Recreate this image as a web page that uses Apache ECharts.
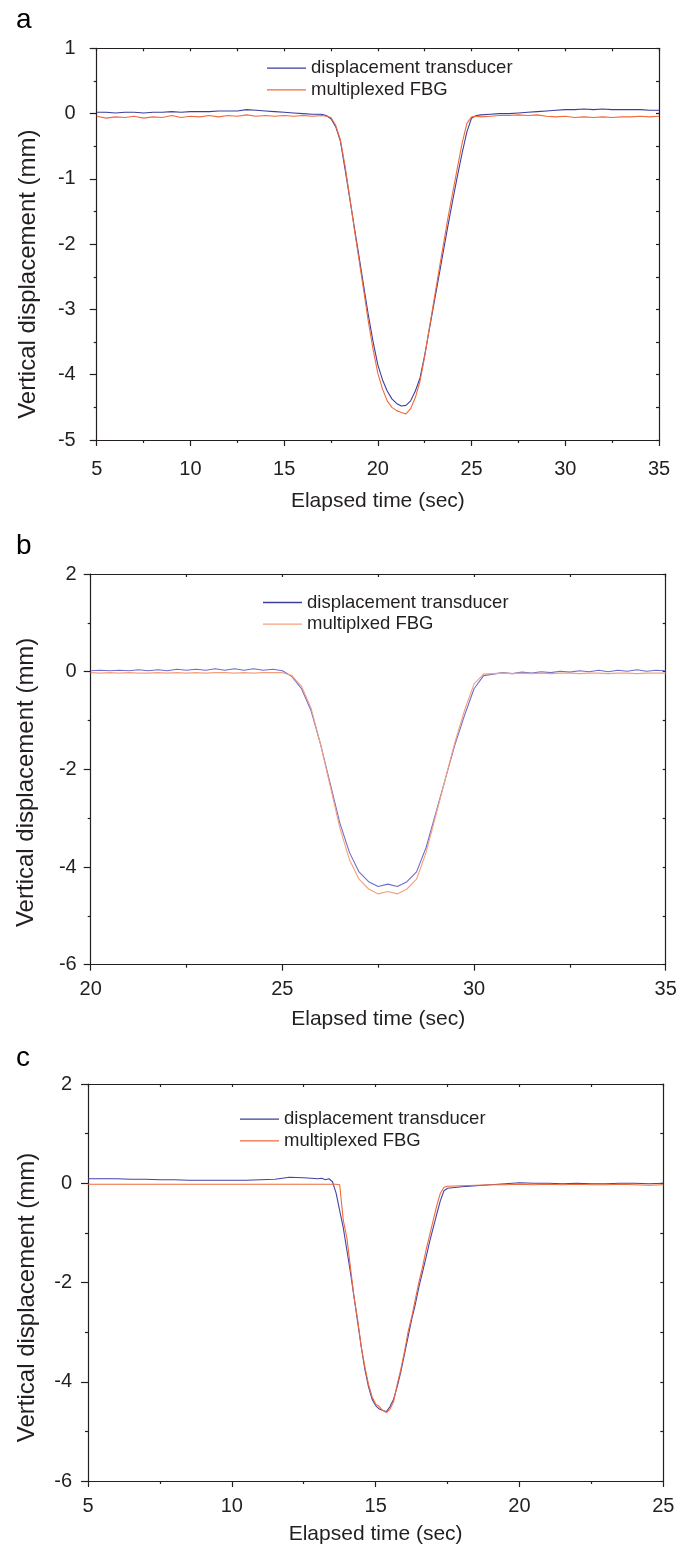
<!DOCTYPE html>
<html>
<head>
<meta charset="utf-8">
<script src="https://cdn.jsdelivr.net/npm/echarts@6/dist/echarts.min.js"></script>
<style>
html,body{margin:0;padding:0;background:#fff;}
#c{width:693px;height:1547px;}
</style>
</head>
<body>
<div id="c"></div>
<script>
// ---------- Panel a ----------
const aTime = [5,5.5,6,6.5,7,7.5,8,8.5,9,9.5,10,10.5,11,11.5,12,12.5,13,13.5,14,14.5,15,15.5,16,16.5,17,
  17.25,17.5,17.75,18,18.25,18.5,18.75,19,19.25,19.5,19.75,20,20.25,20.5,20.75,21,21.25,21.5,21.75,22,22.25,22.5,22.75,23,23.25,23.5,23.75,24,24.25,24.5,24.75,25,25.25,25.5,
  26,26.5,27,27.5,28,28.5,29,29.5,30,30.5,31,31.5,32,32.5,33,33.5,34,34.5,35];
const aDT = [0.02,0.02,0.01,0.02,0.02,0.01,0.02,0.02,0.03,0.02,0.03,0.03,0.03,0.04,0.04,0.04,0.06,0.05,0.04,0.03,0.02,0.01,0.0,-0.01,-0.01,
  -0.03,-0.08,-0.2,-0.42,-0.85,-1.3,-1.75,-2.2,-2.65,-3.1,-3.5,-3.85,-4.08,-4.25,-4.37,-4.44,-4.48,-4.47,-4.4,-4.25,-4.05,-3.7,-3.3,-2.9,-2.5,-2.1,-1.7,-1.32,-0.95,-0.6,-0.28,-0.07,-0.03,-0.02,
  -0.01,0.0,0.0,0.01,0.02,0.03,0.04,0.05,0.06,0.06,0.07,0.06,0.07,0.06,0.06,0.06,0.06,0.05,0.05];
const aFBG = [-0.04,-0.07,-0.05,-0.06,-0.04,-0.07,-0.05,-0.06,-0.03,-0.06,-0.04,-0.05,-0.03,-0.05,-0.03,-0.04,-0.02,-0.04,-0.03,-0.04,-0.03,-0.04,-0.03,-0.04,-0.03,
  -0.04,-0.06,-0.18,-0.4,-0.8,-1.28,-1.78,-2.25,-2.72,-3.2,-3.62,-3.98,-4.22,-4.4,-4.5,-4.55,-4.58,-4.6,-4.52,-4.35,-4.1,-3.72,-3.28,-2.85,-2.42,-2.0,-1.58,-1.2,-0.82,-0.45,-0.15,-0.05,-0.04,-0.05,
  -0.04,-0.03,-0.03,-0.02,-0.03,-0.02,-0.04,-0.05,-0.04,-0.06,-0.05,-0.06,-0.05,-0.06,-0.05,-0.05,-0.04,-0.05,-0.04];

// ---------- Panel b ----------
const bTime = [20,20.25,20.5,20.75,21,21.25,21.5,21.75,22,22.25,22.5,22.75,23,23.25,23.5,23.75,24,24.25,24.5,24.75,25,
  25.25,25.5,25.75,26,26.25,26.5,26.75,27,27.25,27.5,27.75,28,28.25,28.5,28.75,29,29.25,29.5,29.75,30,30.25,30.5,
  30.75,31,31.25,31.5,31.75,32,32.25,32.5,32.75,33,33.25,33.5,33.75,34,34.25,34.5,34.75,35];
const bDT = [0.02,0.03,0.02,0.03,0.02,0.04,0.02,0.04,0.02,0.05,0.03,0.05,0.03,0.06,0.03,0.06,0.03,0.06,0.03,0.05,0.02,
  -0.1,-0.35,-0.8,-1.5,-2.3,-3.1,-3.7,-4.1,-4.3,-4.4,-4.35,-4.4,-4.3,-4.1,-3.6,-2.9,-2.2,-1.5,-0.9,-0.35,-0.08,-0.05,
  -0.02,-0.04,-0.01,-0.03,0.0,-0.02,0.01,-0.01,0.02,0.0,0.03,0.0,0.03,0.01,0.04,0.01,0.03,0.02];
const bFBG = [-0.02,-0.03,-0.02,-0.03,-0.02,-0.03,-0.03,-0.02,-0.03,-0.02,-0.03,-0.02,-0.03,-0.02,-0.02,-0.03,-0.02,-0.03,-0.02,-0.02,-0.02,
  -0.08,-0.3,-0.75,-1.5,-2.35,-3.2,-3.85,-4.25,-4.45,-4.55,-4.5,-4.55,-4.45,-4.25,-3.7,-2.95,-2.2,-1.45,-0.8,-0.25,-0.05,-0.04,
  -0.03,-0.04,-0.03,-0.04,-0.03,-0.04,-0.03,-0.03,-0.04,-0.03,-0.03,-0.04,-0.03,-0.03,-0.04,-0.03,-0.03,-0.03];

// ---------- Panel c ----------
const cTime = [5,5.5,6,6.5,7,7.5,8,8.5,9,9.5,10,10.5,11,11.5,12,12.5,13,
  13.125,13.25,13.375,13.5,13.625,13.75,13.875,14,14.125,14.25,14.375,14.5,14.625,14.75,14.875,15,
  15.125,15.25,15.375,15.5,15.625,15.75,15.875,16,16.125,16.25,16.375,16.5,16.625,16.75,16.875,17,17.125,17.25,17.375,17.5,
  18,18.5,19,19.5,20,20.5,21,21.5,22,22.5,23,23.5,24,24.5,25];
const cDT = [0.09,0.09,0.09,0.08,0.08,0.07,0.07,0.06,0.06,0.06,0.06,0.06,0.07,0.08,0.12,0.11,0.09,
  0.1,0.07,0.09,0.03,-0.2,-0.55,-0.9,-1.35,-1.8,-2.3,-2.8,-3.3,-3.75,-4.1,-4.35,-4.48,
  -4.55,-4.58,-4.6,-4.5,-4.35,-4.1,-3.8,-3.45,-3.1,-2.75,-2.45,-2.1,-1.8,-1.5,-1.18,-0.9,-0.62,-0.35,-0.15,-0.1,
  -0.07,-0.05,-0.03,-0.01,0.01,0.0,0.0,-0.01,0.0,-0.01,-0.01,0.0,0.0,-0.01,0.0];
const cFBG = [-0.02,-0.02,-0.02,-0.02,-0.02,-0.02,-0.02,-0.02,-0.02,-0.02,-0.02,-0.02,-0.02,-0.02,-0.02,-0.02,-0.02,
  -0.02,-0.02,-0.02,-0.02,-0.02,-0.03,-0.75,-1.1,-1.7,-2.3,-2.75,-3.3,-3.7,-4.05,-4.3,-4.45,
  -4.5,-4.58,-4.62,-4.55,-4.4,-4.05,-3.75,-3.4,-3.0,-2.7,-2.35,-2.0,-1.7,-1.35,-1.05,-0.75,-0.45,-0.2,-0.08,-0.06,
  -0.05,-0.04,-0.03,-0.03,-0.02,-0.03,-0.02,-0.03,-0.02,-0.03,-0.03,-0.02,-0.03,-0.04,-0.03];

const xTicksA = {min:5, max:35, interval:5};
const xTicksB = {min:20, max:35, interval:5};
const xTicksC = {min:5, max:25, interval:5};
const yTicksA = {min:-5, max:1, interval:1};
const yTicksB = {min:-6, max:2, interval:2};
const yTicksC = {min:-6, max:2, interval:2};

const nameDT = 'displacement transducer';
const nameFBG = 'multiplexed FBG';
const nameFBGb = 'multiplxed FBG';

const FONT = "'Liberation Sans', Arial, sans-serif";
const INK = '#231f20';

const pairs = (t, v) => t.map((x, i) => [x, v[i]]);

function bottomX(grid, t, margin, gap) {
  return {
    type:'value', gridIndex:grid, position:'bottom', min:t.min, max:t.max, interval:t.interval,
    name:'Elapsed time (sec)', nameLocation:'middle', nameGap:gap,
    nameTextStyle:{fontFamily:FONT, fontSize:21, color:INK},
    axisLine:{show:true, onZero:false, lineStyle:{color:INK, width:1.2}},
    axisTick:{show:true, inside:false, length:6, lineStyle:{color:INK, width:1.2}},
    minorTick:{show:true, splitNumber:2, length:3, lineStyle:{color:INK, width:1.2}},
    splitLine:{show:false},
    axisLabel:{show:true, margin:margin, fontFamily:FONT, fontSize:20, color:INK}
  };
}
function topX(grid, t) {
  return {
    type:'value', gridIndex:grid, position:'top', min:t.min, max:t.max, interval:t.interval/2,
    axisLine:{show:true, onZero:false, lineStyle:{color:INK, width:1.2}},
    axisTick:{show:true, inside:true, length:3, lineStyle:{color:INK, width:1.2}},
    splitLine:{show:false}, axisLabel:{show:false}
  };
}
function leftY(grid, t, margin, gap, shift) {
  return {
    type:'value', gridIndex:grid, position:'left', min:t.min, max:t.max, interval:t.interval,
    name:'Vertical displacement (mm)', nameLocation:'middle', nameGap:gap,
    nameTextStyle:{fontFamily:FONT, fontSize:24, color:INK, padding:[0, 2*shift, 0, 0]},
    axisLine:{show:true, onZero:false, lineStyle:{color:INK, width:1.2}},
    axisTick:{show:true, inside:false, length:7, lineStyle:{color:INK, width:1.2}},
    minorTick:{show:true, splitNumber:2, length:3, lineStyle:{color:INK, width:1.2}},
    splitLine:{show:false},
    axisLabel:{show:true, margin:margin, fontFamily:FONT, fontSize:20, color:INK}
  };
}
function rightY(grid, t) {
  return {
    type:'value', gridIndex:grid, position:'right', min:t.min, max:t.max, interval:t.interval/2,
    axisLine:{show:true, onZero:false, lineStyle:{color:INK, width:1.2}},
    axisTick:{show:true, inside:true, length:3, lineStyle:{color:INK, width:1.2}},
    splitLine:{show:false}, axisLabel:{show:false}
  };
}
function line(name, xi, yi, data, color) {
  return {
    type:'line', name:name, xAxisIndex:xi, yAxisIndex:yi, data:data,
    showSymbol:false, symbol:'none', animation:false,
    lineStyle:{color:color, width:1.1}, itemStyle:{color:color}, z:3
  };
}
function legendAt(left, top, names) {
  return {
    show:true, data:names, left:left, top:top, orient:'vertical',
    icon:'rect', itemWidth:39, itemHeight:1.3, itemGap:2.6, padding:0,
    textStyle:{fontFamily:FONT, fontSize:18.5, color:INK, lineHeight:18},
    selectedMode:false
  };
}

const chart = echarts.init(document.getElementById('c'), null, {renderer:'canvas'});
chart.setOption({
  backgroundColor:'#fff',
  animation:false,
  title:[
    {text:'a', left:11, top:1, textStyle:{fontFamily:FONT, fontSize:28, fontWeight:'normal', color:'#000'}},
    {text:'b', left:11, top:527, textStyle:{fontFamily:FONT, fontSize:28, fontWeight:'normal', color:'#000'}},
    {text:'c', left:11, top:1039, textStyle:{fontFamily:FONT, fontSize:28, fontWeight:'normal', color:'#000'}}
  ],
  legend:[
    legendAt(267, 58.7, [nameDT, nameFBG]),
    legendAt(263, 593, [nameDT, nameFBGb]),
    legendAt(240, 1109.7, [nameDT, nameFBG])
  ],
  grid:[
    {left:96.7, top:48.3, width:562.3, height:391.7},
    {left:90.7, top:574, width:575, height:390.7},
    {left:88, top:1084, width:575.3, height:397}
  ],
  xAxis:[
    bottomX(0, xTicksA, 19, 51), topX(0, xTicksA),
    bottomX(1, xTicksB, 15, 44), topX(1, xTicksB),
    bottomX(2, xTicksC, 15, 43), topX(2, xTicksC)
  ],
  yAxis:[
    leftY(0, yTicksA, 21, 56, 30), rightY(0, yTicksA),
    leftY(1, yTicksB, 14, 52, 13), rightY(1, yTicksB),
    leftY(2, yTicksC, 16, 49, 15), rightY(2, yTicksC)
  ],
  series:[
    line(nameDT, 0, 0, pairs(aTime, aDT), '#3b3f9f'),
    line(nameFBG, 0, 0, pairs(aTime, aFBG), '#f26a3b'),
    line(nameDT, 2, 2, pairs(bTime, bDT), '#6d6dd2'),
    line(nameFBGb, 2, 2, pairs(bTime, bFBG), '#f6a07a'),
    line(nameDT, 4, 4, pairs(cTime, cDT), '#4343aa'),
    line(nameFBG, 4, 4, pairs(cTime, cFBG), '#f26a3b')
  ]
});
</script>
</body>
</html>
